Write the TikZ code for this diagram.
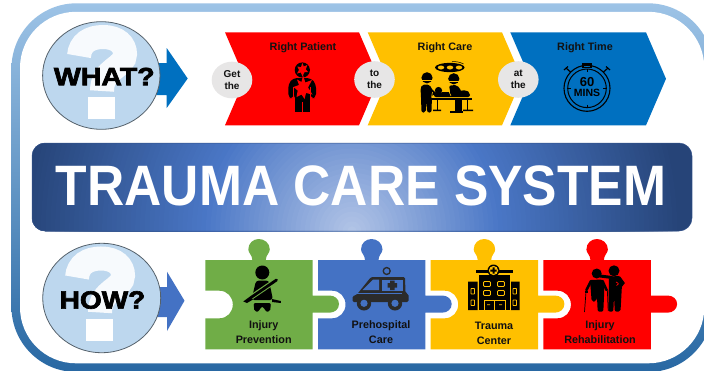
\documentclass[tikz,border=0pt]{standalone}
\usepackage{fontspec}
\usetikzlibrary{shapes.geometric}
\setmainfont{Liberation Sans}
\newfontfamily\heavyfont[BoldFeatures={FakeBold=2.6}]{Liberation Sans}
\definecolor{cRed}{HTML}{FF0000}
\definecolor{cYel}{HTML}{FFC000}
\definecolor{cBlu}{HTML}{0070C0}
\definecolor{cIndigo}{HTML}{4472C4}
\definecolor{cGrn}{HTML}{70AD47}
\definecolor{cOval}{HTML}{E7E6E6}
\definecolor{cBall}{HTML}{BDD7EE}
\definecolor{cInk}{HTML}{111111}
\definecolor{cVan}{HTML}{2B2B2B}
\definecolor{frameTop}{HTML}{9DC3E6}
\definecolor{frameMid}{HTML}{5C9AD2}
\definecolor{frameBot}{HTML}{2868A3}
\definecolor{bannerA}{HTML}{B4C6E7}
\definecolor{bannerB}{HTML}{4A77C6}
\definecolor{bannerC}{HTML}{264478}
\tikzset{
  ballstyle/.style={fill=cBall,draw=black!55!cBall,line width=.8pt},
  wordstyle/.style={font=\heavyfont\bfseries\fontsize{25}{25}\selectfont,text=black,inner sep=0pt},
  ovalstyle/.style={ellipse,fill=cOval,draw=none,inner sep=0pt,minimum width=40.6pt,minimum height=36.6pt,
    font=\bfseries\fontsize{10}{12}\selectfont,text=cInk,align=center},
  headstyle/.style={font=\bfseries\fontsize{10.8}{13}\selectfont,text=cInk,inner sep=0pt},
  piecetext/.style={font=\bfseries\fontsize{10.8}{14.8}\selectfont,text=cInk,align=center,inner sep=0pt},
  qmark/.style={draw=white!88!cBall,line width=24pt},
}
\newcommand\piece[2]{%
\begin{scope}[xshift=#1pt]
\fill[#2] (0,260) -- (47,260) .. controls (47,255) and (43,253) .. (43,249.5)
  .. controls (43,243) and (48,239) .. (53.5,239) .. controls (59,239) and (64.5,243) .. (64.5,249.5)
  .. controls (64.5,253) and (60.5,255) .. (60.5,260) -- (107.4,260) -- (107.4,295.5) -- (124,295.5)
  .. controls (129.5,295.5) and (133.7,299) .. (133.7,304) .. controls (133.7,309) and (129.5,312.7) .. (124,312.7)
  -- (107.4,312.7) -- (107.4,349.3) -- (0,349.3) -- (0,318.3) -- (14,318.3)
  .. controls (22,318.3) and (27.5,312) .. (27.5,304.5) .. controls (27.5,297) and (22,290.7) .. (14,290.7)
  -- (0,290.7) -- cycle;
\end{scope}}
\newcommand\questionshape{%
\draw[qmark] (79,56) .. controls (80,43) and (90,37) .. (103,37) .. controls (118,37) and (125,45) .. (125,54)
  .. controls (125,68) and (102,68) .. (102,91);
\fill[white] (88,97) rectangle (115,119);}
\begin{document}
\begin{tikzpicture}[x=1pt,y=-1pt]
\useasboundingbox (0,0) rectangle (704,370);
\clip (0,0) rectangle (704,370);
\fill[white] (0,0) rectangle (704,370);
% frame
\shade[top color=frameTop,middle color=frameMid,bottom color=frameBot,rounded corners=65pt]
  (11.5,3.3) rectangle (713,372);
\fill[white,rounded corners=56pt] (20,11.8) rectangle (704.3,363.3);
% arrows
\fill[cBlu] (150,63) -- (166.7,63) -- (166.7,48) -- (187.7,78.5) -- (166.7,108) -- (166.7,95) -- (150,95) -- cycle;
\fill[cIndigo] (150,287) -- (167,287) -- (167,271.7) -- (184.5,300.7) -- (167,331) -- (167,317) -- (150,317) -- cycle;
% WHAT ball
\draw[ballstyle] (101.3,75.5) ellipse[x radius=58.7,y radius=53.8];
\questionshape
\node[wordstyle,xscale=1.14] (what) at (104.3,76.5) {WHAT?};
% HOW ball
\draw[ballstyle] (101.7,298) ellipse[x radius=59,y radius=54.7];
\begin{scope}[shift={(-2,221.5)}]\questionshape\end{scope}
\node[wordstyle,xscale=1.12] (how) at (102.5,300) {HOW?};
% chevrons
\fill[cBlu] (510.3,32.3) -- (646,32.3) -- (666,78.8) -- (646,125.3) -- (510.3,125.3) -- (530.3,78.8) -- cycle;
\fill[cYel] (367.7,32.3) -- (502,32.3) -- (522,78.8) -- (502,125.3) -- (367.7,125.3) -- (387.7,78.8) -- cycle;
\fill[cRed] (225,32.3) -- (359,32.3) -- (379,78.8) -- (359,125.3) -- (225,125.3) -- (245,78.8) -- cycle;
\node[headstyle] (rp) at (303,47.6) {Right Patient};
\node[headstyle] (rc) at (445,47.6) {Right Care};
\node[headstyle] (rt) at (585,47.6) {Right Time};
% ovals
\node[ovalstyle] (get) at (232,80) {Get\\the};
\node[ovalstyle] (to) at (374.5,79.5) {to\\the};
\node[ovalstyle] (at) at (518.3,79.5) {at\\the};
% patient icon
\fill[black] (302.3,70) circle[radius=7.6];
\fill[black,rounded corners=4pt] (288.3,98) -- (288.3,84) -- (293,78) -- (311,78) -- (316,84) -- (316,98) -- (311,98) -- (309.5,94) -- (309.5,111.8) -- (295,111.8) -- (295,94) -- (293,98) -- cycle;
\fill[black] (295,95) rectangle (309.5,111.8);
\draw[cRed,line width=.8pt] (293.8,87) -- (293.8,98) (310.8,87) -- (310.8,98) (302.3,102) -- (302.3,112);
\fill[cRed] (302.3,62.8) -- (303.8,66.5) -- (307.3,65) -- (305.8,69.3) -- (308,72) -- (304.3,72.3) -- (302.5,76.5) -- (300.8,72.5) -- (297,73.5) -- (299,70) -- (297.3,66.5) -- (301,67.2) -- cycle;
\fill[cRed] (303,75) -- (305.3,82.5) -- (312,80) -- (308,87.5) -- (312.5,94.5) -- (306,93) -- (304.5,99) -- (301.5,94.5) -- (296.5,97) -- (297.7,90.5) -- (293.5,87) -- (299,85) -- (297,79.5) -- (301.5,82) -- cycle;
% surgery icon
\fill[black] (449.8,67.5) ellipse[x radius=14.8,y radius=4.6];
\fill[cYel] (441,67.5) ellipse[x radius=3.2,y radius=2] (450,67.5) ellipse[x radius=3.2,y radius=2] (459,67.5) ellipse[x radius=3.2,y radius=2];
\draw[black,line width=.5pt] (452,61.5) .. controls (456,61.5) and (460,62) .. (463.5,64);
\fill[black] (427,77.8) circle[radius=5.6];
\fill[black,rounded corners=2pt] (422.3,84.5) -- (429.5,84.5) -- (433,91) -- (437.5,93) -- (436.5,95.5) -- (432,94.5) -- (431.5,112.5) -- (427.2,112.5) -- (426.8,100) -- (425.8,112.5) -- (421.5,112.5) -- (421,97) -- (420.5,88) -- cycle;
\fill[black] (453.8,78.8) circle[radius=5.6];
\fill[black,rounded corners=2pt] (449,85.5) -- (457,85) -- (461.5,91) -- (462,96) -- (451,96) -- cycle;
\fill[black] (455,98) rectangle (461.5,111);
\fill[black] (450,110.5) rectangle (463,112.8);
\fill[black] (438.5,90.5) circle[radius=3.6];
\fill[black,rounded corners=2pt] (442,92) -- (452,92) -- (466,90) -- (470,93) -- (470,97) -- (434,97) -- (434,94) -- cycle;
\fill[black] (428.5,97.5) rectangle (472,99.8);
\draw[black,line width=1pt] (437,99) -- (437,110) (467,99) -- (467,110);
\fill[black] (433,109.7) rectangle (441,111.2) (463,109.7) rectangle (473,111.2);
\draw[cYel,line width=.7pt] (422,80) -- (431.8,80) (449,81) -- (458.5,81);
\draw[cYel,line width=.6pt] (432.5,92) -- (431.5,97.5) (447,87) -- (451,96);
% stopwatch
\fill[black] (582,63) rectangle (592,68);
\fill[cBlu] (584,64.5) rectangle (590,66.7);
\draw[black,line width=1.1pt] (587,88.3) circle[radius=23];
\draw[black,line width=1pt] (587,88.3) circle[radius=19.3];
\draw[black,line width=1.2pt] (570.5,72) -- (566,68) (603.5,72) -- (608,68) (564,70) -- (568,66.5) (610,70) -- (606,66.5);
\draw[black,line width=.9pt] (587,69) -- (587,72) (587,104.5) -- (587,107.5) (568,88.3) -- (571,88.3) (603,88.3) -- (606,88.3);
\node[font=\bfseries\fontsize{13}{13}\selectfont,text=black,inner sep=0pt] (sixty) at (587,82.3) {60};
\node[font=\bfseries\fontsize{10.5}{10.5}\selectfont,text=black,inner sep=0pt] (mins) at (587,93.3) {MINS};
% banner: glow from the middle of the lower edge
\begin{scope}
\clip[rounded corners=13pt] (32,143) rectangle (692,231);
\fill[bannerC] (32,143) rectangle (692,231);
\foreach \k in {70,69,...,1}{
  \pgfmathsetmacro\tval{\k/70}
  \pgfmathsetmacro\rx{\tval*330}
  \pgfmathsetmacro\ry{\tval*340}
  \ifdim\tval pt>0.45pt
    \pgfmathsetmacro\pct{(1-\tval)/0.55*100}
    \colorlet{glowtone}{bannerB!\pct!bannerC}
  \else
    \pgfmathsetmacro\pct{(0.45-\tval)/0.45*100}
    \colorlet{glowtone}{bannerA!\pct!bannerB}
  \fi
  \fill[glowtone] (352,231) ellipse[x radius=\rx,y radius=\ry];
}
\end{scope}
\draw[black!30!bannerB,line width=.5pt,rounded corners=13pt] (32,143) rectangle (692,231);
\node[font=\bfseries\fontsize{57}{57}\selectfont,text=white,inner sep=0pt,xscale=.905] (title) at (361,185.5) {TRAUMA CARE SYSTEM};
% puzzle
\piece{205.3}{cGrn}
\piece{318}{cIndigo}
\piece{430.7}{cYel}
\piece{543.4}{cRed}
\node[piecetext] (p1) at (263.7,332) {Injury\\Prevention};
\node[piecetext] (p2) at (381,332) {Prehospital\\Care};
\node[piecetext] (p3) at (494,333) {Trauma\\Center};
\node[piecetext] (p4) at (600,332) {Injury\\Rehabilitation};
% seatbelt
\fill[black] (262.3,272.5) circle[radius=7];
\fill[black,rounded corners=3pt] (256,280.5) -- (269,280.5) -- (273,300) -- (251.5,300) -- cycle;
\draw[cGrn,line width=5pt] (250,298) -- (278,279);
\draw[black,line width=2.8pt,line cap=round] (251,297.5) -- (276.5,280);
\fill[black] (243.3,301.5) -- (250,296.5) -- (253,299.5) -- (247,303) -- cycle;
\fill[black] (272,299) -- (280.8,301) -- (280.8,303) -- (272,302) -- cycle;
\fill[black,rounded corners=2pt] (253.5,303) -- (271,303) -- (270,311.7) -- (265,311.7) -- (264.5,307) -- (260,307) -- (259.5,311.7) -- (254.5,311.7) -- cycle;
% ambulance
\fill[cVan] (386.7,271) circle[radius=4.2];
\fill[cIndigo] (386.7,271) circle[radius=2.6];
\fill[cVan,rounded corners=1.5pt] (371,277) -- (405,277) -- (405.5,293) -- (408.5,294) -- (408.5,302) -- (352.5,302) -- (352.5,296) -- (356.5,295) -- cycle;
\fill[cIndigo] (373,279.5) -- (379,279.5) -- (379,290) -- (362.5,290) -- cycle;
\fill[cIndigo] (382,279.5) rectangle (402.5,291);
\fill[cVan] (387.5,283) rectangle (397,287.5) (390,280.5) rectangle (394.5,290);
\fill[cIndigo] (357,293) rectangle (402,294.3);
\foreach \wx in {364,395}{
  \fill[cVan] (\wx,303.3) circle[radius=7.2];
  \fill[cIndigo] (\wx,303.3) circle[radius=3.6];}
% hospital
\fill[black] (478.5,275) rectangle (510,310);
\fill[black] (468,281.5) rectangle (477.5,310) (511,281.5) rectangle (519.5,310);
\fill[black] (476,269.8) rectangle (512.5,273);
\fill[black] (493.5,270.5) circle[radius=6];
\fill[cYel] (493.5,270.5) circle[radius=4.6];
\fill[black] (492.5,267.3) rectangle (494.5,273.7) (490.3,269.5) rectangle (496.7,271.5);
\foreach \wx/\wy in {483.5/281.5,497.5/281.5,483.5/290.5,497.5/290.5}{
  \draw[cYel,line width=.9pt,rounded corners=1pt] (\wx,\wy) rectangle ++(7,5);}
\foreach \wx/\wy in {471/288.5,471/300,513/288.5,513/300}{
  \draw[cYel,line width=.9pt,rounded corners=.5pt] (\wx,\wy) rectangle ++(3.5,5.5);}
\draw[cYel,line width=.9pt] (484,310) -- (484,300.5) -- (505,300.5) -- (505,310) (494.5,300.5) -- (494.5,310);
\fill[cYel] (487,304.3) rectangle (490,305.1) (499,304.3) rectangle (502,305.1);
% rehabilitation
\fill[black] (596.7,273.5) circle[radius=5];
\fill[black] (614,270.8) circle[radius=5.5];
\fill[black,rounded corners=2pt] (609,277) -- (620,275.5) -- (622,284) -- (620.5,311.7) -- (614.8,311.7) -- (614,296) -- (613.3,311.7) -- (608.3,311.7) -- cycle;
\draw[black,line width=3pt,line cap=round] (600,276) -- (612,277.5) (619,277.5) -- (623,283) -- (619.5,287.5) -- (611,288);
\draw[cRed,line width=.7pt] (616,282) .. controls (619,283) and (619,285) .. (616.5,285.5);
\draw[cRed,line width=3.6pt] (606,283) -- (606.2,312);
\fill[black,rounded corners=2pt] (590,280) -- (603,279.5) -- (604.3,290) -- (603.3,311.7) -- (597.7,311.7) -- (597,297) -- (596,301.7) -- (591.7,301.7) -- cycle;
\draw[black,line width=2.6pt,line cap=round] (591,281) -- (586.5,290) (602.5,281) -- (606.5,290);
\draw[black,line width=.7pt] (586.2,289) -- (584.5,312) (607.3,289) -- (608.2,311);
\draw[black,line width=1.2pt] (584.5,292) -- (588,292);
\end{tikzpicture}
\end{document}
